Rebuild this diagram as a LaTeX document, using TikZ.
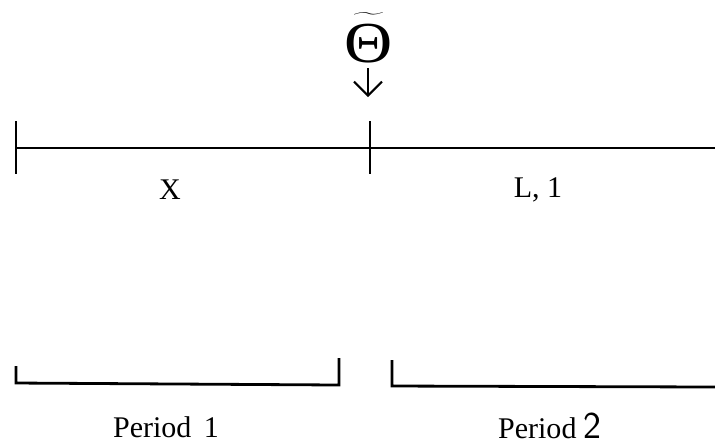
\documentclass[tikz,border=0pt]{standalone}
\usepackage{fontspec}
\setmainfont{Liberation Serif}
\usetikzlibrary{arrows.meta,positioning}

\begin{document}
\begin{tikzpicture}[x=.5pt,y=-.5pt,
    line width=1.4pt,
    lbl/.style={font=\fontsize{15}{18}\selectfont,inner sep=0pt}]
  \useasboundingbox (0,0) rectangle (715,447);
  % time line
  \coordinate (start) at (16,148);
  \coordinate (mid) at (370,148);
  \coordinate (end) at (715,148);
  \draw (start) -- (end);
  \foreach \c in {start,mid}{
    \draw ([yshift=13.5pt]\c) -- ([yshift=-13pt]\c);
  }
  \node[lbl] (x) at (170,190) {X};
  \node[lbl] (l1) at (538,190) {L, 1};
  % arrival of the signal
  \node[inner sep=0pt,anchor=base,font=\fontsize{29}{32}\selectfont] (theta) at (369,62)
    {$\widetilde{\hbox{\scalebox{1.15}[1]{Θ}\rule{0pt}{.74em}}}$};
  \coordinate (tip) at (368,97);
  \draw[line width=1pt,-{Straight Barb[length=7pt,width=14pt]}] (theta.base) ++(-.5pt,-3pt) coordinate (tail) (tail) -- (tip);
  % periods
  \coordinate (a1) at (16,366);
  \coordinate (a2) at (16,383);
  \coordinate (a3) at (339,385);
  \coordinate (a4) at (339,358);
  \draw (a1) -- (a2) -- (a3) -- (a4);
  \coordinate (b1) at (392,360);
  \coordinate (b2) at (392,386);
  \coordinate (b3) at (715,387);
  \draw (b1) -- (b2) -- (b3);
  \node[lbl] (p1) at (166,427) {Period \,1};
  \node[lbl] (p2) at (550,426) {Period {\fontsize{19}{20}\selectfont\sffamily 2}};
\end{tikzpicture}
\end{document}
